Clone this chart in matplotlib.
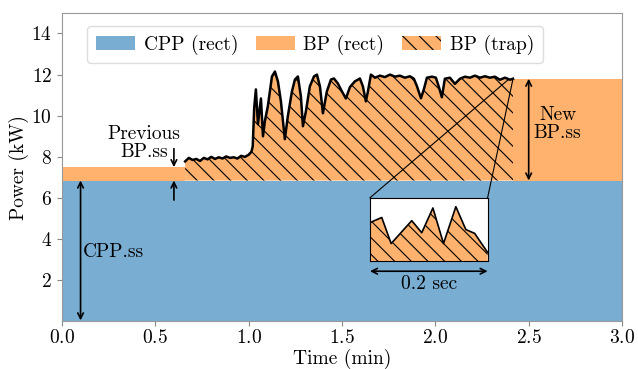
import matplotlib
matplotlib.use("Agg")
import matplotlib.pyplot as plt
from matplotlib.patches import Patch, Rectangle
import numpy as np

plt.rcParams['font.family'] = 'serif'
plt.rcParams['font.serif'] = ['cmr10']
plt.rcParams['mathtext.fontset'] = 'cm'
plt.rcParams['axes.formatter.use_mathtext'] = True
plt.rcParams['hatch.linewidth'] = 0.8

BLUE = '#79add2'
ORANGE = '#ffb26e'

# steady-state levels (kW) and time marks (min)
cpp_ss = 6.85
prev_bp_ss = 7.5
new_bp_ss = 11.8
t_start = 0.66
t_end = 2.416
t_max = 3.0

# measured power trace during the transient
trace_t = [0.66, 0.68, 0.70, 0.72, 0.74, 0.76, 0.78, 0.80, 0.82, 0.84, 0.86, 0.88,
           0.90, 0.92, 0.94, 0.96, 0.98, 1.00, 1.015, 1.022, 1.03, 1.039, 1.050,
           1.066, 1.077, 1.087, 1.103, 1.125, 1.141, 1.157, 1.173, 1.194, 1.210,
           1.232, 1.248, 1.264, 1.280, 1.291, 1.307, 1.328, 1.350, 1.366, 1.382,
           1.398, 1.419, 1.441, 1.457, 1.478, 1.500, 1.521, 1.543, 1.569, 1.596,
           1.612, 1.628, 1.639, 1.655, 1.677, 1.703, 1.730, 1.757, 1.784, 1.810,
           1.837, 1.864, 1.885, 1.901, 1.923, 1.939, 1.955, 1.982, 2.003, 2.019,
           2.035, 2.051, 2.078, 2.105, 2.132, 2.159, 2.185, 2.212, 2.239, 2.266,
           2.292, 2.319, 2.346, 2.373, 2.400, 2.416]
trace_p = [7.78, 7.95, 7.85, 7.90, 7.80, 7.95, 7.88, 8.00, 7.90, 7.98, 7.92, 8.02,
           7.95, 7.98, 7.92, 8.05, 8.00, 8.10, 8.25, 8.50, 10.40, 11.28, 9.59,
           10.84, 9.00, 9.73, 10.46, 11.91, 12.15, 11.67, 10.70, 8.86, 9.97,
           11.18, 11.76, 11.91, 10.94, 9.49, 10.22, 11.43, 11.91, 12.00, 11.43,
           10.12, 11.18, 11.76, 11.81, 11.57, 11.18, 10.84, 11.40, 11.67, 11.81,
           11.43, 10.70, 11.18, 12.00, 11.85, 11.95, 11.88, 12.00, 11.90, 11.95,
           11.85, 11.92, 11.80, 11.45, 10.85, 11.30, 11.85, 11.90, 11.85, 11.40,
           10.90, 11.80, 11.85, 11.55, 11.80, 11.90, 11.85, 11.95, 11.85, 11.92,
           11.85, 11.90, 11.75, 11.85, 11.75, 11.80]

# last 0.2 sec of the trace (normalised power)
zoom_t = [0.000, 0.020, 0.036, 0.071, 0.088, 0.107, 0.125, 0.146, 0.163, 0.178, 0.200]
zoom_p = [0.61, 0.69, 0.28, 0.64, 0.45, 0.84, 0.28, 0.86, 0.50, 0.44, 0.14]

fig, ax = plt.subplots(figsize=(6.38, 3.69), dpi=100)
fig.subplots_adjust(left=0.097, right=0.975, top=0.965, bottom=0.129)

ax.add_patch(Rectangle((0, 0), t_max, cpp_ss, facecolor=BLUE, edgecolor='none'))
ax.add_patch(Rectangle((0, cpp_ss), t_start, prev_bp_ss - cpp_ss,
                       facecolor=ORANGE, edgecolor='none'))
ax.add_patch(Rectangle((t_end, cpp_ss), t_max - t_end, new_bp_ss - cpp_ss,
                       facecolor=ORANGE, edgecolor='none'))
ax.fill_between(trace_t, cpp_ss, trace_p, facecolor=ORANGE, edgecolor='black',
                hatch='\\\\', linewidth=0)
ax.plot(trace_t, trace_p, color='black', lw=1.8)

ax.set_xlim(0, t_max)
ax.set_ylim(0, 15)
ax.set_xticks(np.arange(0, 3.01, 0.5))
ax.set_yticks(np.arange(2, 15, 2))
ax.tick_params(labelsize=14, color='#888888')
ax.tick_params(axis='x', pad=2)
for s in ax.spines.values():
    s.set_color('#999999')
ax.set_xlabel('Time (min)', fontsize=14, labelpad=1)
ax.set_ylabel('Power (kW)', fontsize=14, labelpad=2)

arr = dict(arrowstyle='<->', color='black', lw=1.2, shrinkA=0, shrinkB=0)
up = dict(arrowstyle='->', color='black', lw=1.2, shrinkA=0, shrinkB=0)

# CPP steady state
ax.annotate('', xy=(0.1, 0.05), xytext=(0.1, cpp_ss), arrowprops=arr)
ax.text(0.11, 3.35, 'CPP.ss', fontsize=14, va='center', ha='left')

# previous BP steady state
ax.annotate('', xy=(0.6, prev_bp_ss), xytext=(0.6, 8.4), arrowprops=up)
ax.annotate('', xy=(0.6, cpp_ss), xytext=(0.6, 5.9), arrowprops=up)
ax.text(0.44, 8.67, 'Previous\nBP.ss', fontsize=14, va='center', ha='center',
        linespacing=1.0)

# new BP steady state
ax.annotate('', xy=(2.5, cpp_ss), xytext=(2.5, new_bp_ss), arrowprops=arr)
ax.text(2.655, 9.6, 'New\nBP.ss', fontsize=14, va='center', ha='center',
        linespacing=1.0)

# zoomed view of the final 0.2 sec
ins_x, ins_y, ins_w, ins_h = 1.65, 2.92, 0.63, 3.09
ins = ax.inset_axes([ins_x, ins_y, ins_w, ins_h], transform=ax.transData)
ins.fill_between(zoom_t, 0, zoom_p, facecolor=ORANGE, edgecolor='black',
                 hatch='\\\\', linewidth=0)
ins.plot(zoom_t, zoom_p, color='black', lw=1.2)
ins.set_xlim(0, 0.2)
ins.set_ylim(0, 1)
ins.set_xticks([])
ins.set_yticks([])
for s in ins.spines.values():
    s.set_color('black')
    s.set_linewidth(0.8)

ax.plot([ins_x, 2.39], [ins_y + ins_h, 11.75], color='black', lw=0.8)
ax.plot([ins_x + ins_w, 2.415], [ins_y + ins_h, 11.75], color='black', lw=0.8)

ax.annotate('', xy=(ins_x, 2.44), xytext=(ins_x + ins_w, 2.44), arrowprops=arr)
ax.text(ins_x + ins_w / 2, 1.8, '0.2 sec', fontsize=14, ha='center', va='center')

handles = [Patch(facecolor=BLUE, label='CPP (rect)'),
           Patch(facecolor=ORANGE, label='BP (rect)'),
           Patch(facecolor=ORANGE, edgecolor='black', hatch='\\\\', lw=0,
                 label='BP (trap)')]
ax.legend(handles=handles, loc='upper center', ncol=3, fontsize=14,
          bbox_to_anchor=(0.452, 0.99), handlelength=2.0, handletextpad=0.45,
          columnspacing=0.9, framealpha=1, edgecolor='#dddddd', borderpad=0.45)

fig.savefig('out.png', dpi=100)
